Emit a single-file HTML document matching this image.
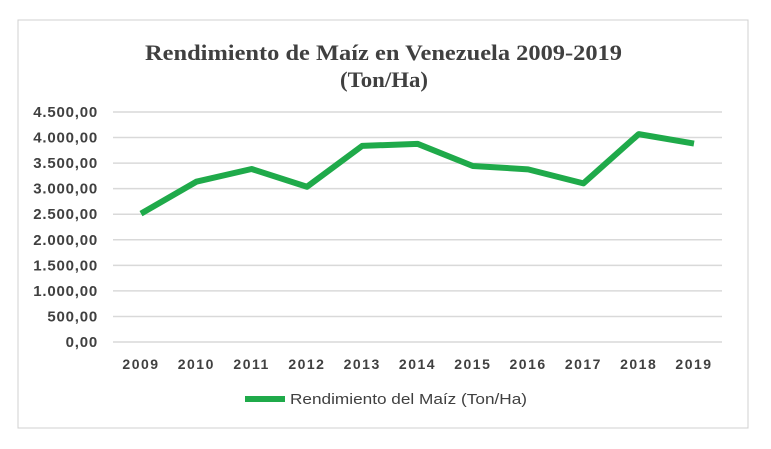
<!DOCTYPE html>
<html><head><meta charset="utf-8"><style>
body{margin:0;background:#fff;width:771px;height:449px;overflow:hidden}
svg{display:block}
</style></head><body>
<svg width="771" height="449">
<rect x="18" y="20" width="730" height="408" fill="#fff" stroke="#d0d0d0"/>
<text x="145" y="60" textLength="477" lengthAdjust="spacingAndGlyphs" font-family="Liberation Serif, serif" font-weight="bold" font-size="22" fill="#404040">Rendimiento de Maíz en Venezuela 2009-2019</text>
<text x="340" y="87" textLength="88" lengthAdjust="spacingAndGlyphs" font-family="Liberation Serif, serif" font-weight="bold" font-size="22" fill="#404040">(Ton/Ha)</text>
<g id="grid"></g><g id="ylab"></g><g id="xlab"></g>
<polyline id="line" fill="none" stroke="#1faa4a" stroke-width="6" stroke-linejoin="round"/>
<line x1="245" y1="399" x2="285" y2="399" stroke="#1faa4a" stroke-width="6"/>
<text x="290" y="404" textLength="237" lengthAdjust="spacingAndGlyphs" font-family="Liberation Sans, sans-serif" font-size="15" fill="#404040">Rendimiento del Maíz (Ton/Ha)</text>
</svg>
<script>
const years=["2009","2010","2011","2012","2013","2014","2015","2016","2017","2018","2019"];
const values=[2512,3136,3385,3037,3837,3877,3444,3378,3103,4067,3883];
const yTicks=[0,500,1000,1500,2000,2500,3000,3500,4000,4500];
const yTickLabels=["0,00","500,00","1.000,00","1.500,00","2.000,00","2.500,00","3.000,00","3.500,00","4.000,00","4.500,00"];
const NS="http://www.w3.org/2000/svg";
const y=v=>342-v*(342-112)/4500;
const x=i=>141+i*(694-141)/(years.length-1);
const g=document.getElementById('grid'),yl=document.getElementById('ylab'),xl=document.getElementById('xlab');
yTicks.forEach((t,i)=>{
 const l=document.createElementNS(NS,'line');
 l.setAttribute('x1',113);l.setAttribute('x2',722);l.setAttribute('y1',y(t));l.setAttribute('y2',y(t));
 l.setAttribute('stroke','#d9d9d9');l.setAttribute('stroke-width','1.5');
 
 
 g.appendChild(l);
 const tx=document.createElementNS(NS,'text');
 tx.setAttribute('x',98);tx.setAttribute('y',y(t)+5);tx.setAttribute('text-anchor','end');
 tx.setAttribute('font-family','Liberation Sans, sans-serif');tx.setAttribute('font-size','15');tx.setAttribute('font-weight','bold');tx.setAttribute('fill','#404040');tx.setAttribute('letter-spacing','0.8');
 tx.textContent=yTickLabels[i];
 
 
 yl.appendChild(tx);
});
years.forEach((yr,i)=>{
 const tx=document.createElementNS(NS,'text');
 tx.setAttribute('x',x(i));tx.setAttribute('y',369);tx.setAttribute('text-anchor','middle');
 tx.setAttribute('font-family','Liberation Sans, sans-serif');tx.setAttribute('font-size','14');tx.setAttribute('font-weight','bold');tx.setAttribute('fill','#404040');tx.setAttribute('letter-spacing','1.5');
 tx.textContent=yr;
 
 
 xl.appendChild(tx);
});
document.getElementById('line').setAttribute('points',values.map((v,i)=>x(i)+','+y(v)).join(' '));
</script>
</body></html>
